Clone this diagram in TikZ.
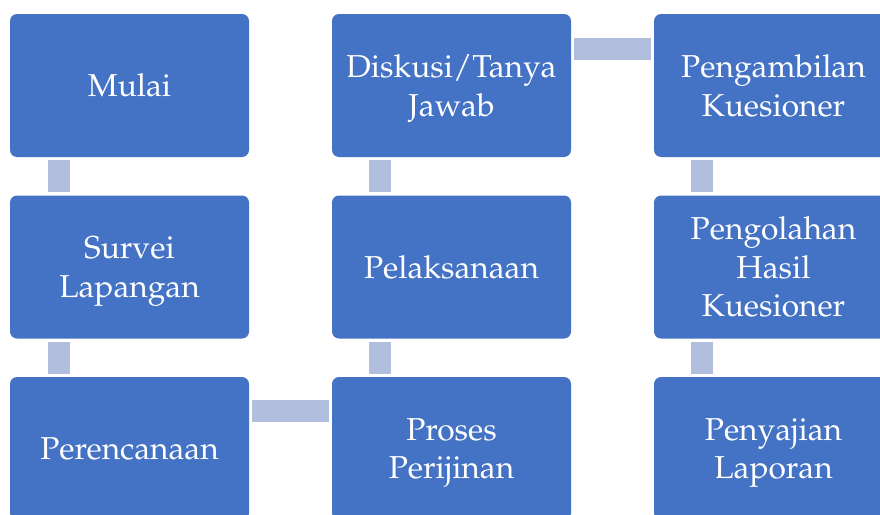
\documentclass[tikz,border=0pt]{standalone}
\usepackage[T1]{fontenc}
\usepackage{mathpazo}
\usepackage{xcolor}
\usepackage{tikz}

\definecolor{boxblue}{RGB}{68,114,196}
\definecolor{linkblue}{RGB}{177,190,222}

\begin{document}
\begin{tikzpicture}[x=1pt,y=-1pt,
  stepbox/.style={fill=boxblue,rounded corners=7pt,minimum width=239pt,minimum height=143pt,
    inner sep=0pt,text depth=0pt,text=white,align=center,font=\fontsize{31.7}{38.5}\selectfont},
  link/.style={draw=linkblue,line width=22pt,shorten <=3pt,shorten >=3pt}]
\useasboundingbox (0,0) rectangle (880,514);
\clip (0,0) rectangle (880,514);
%Boxes
\node[stepbox] (mulai) at (129.5,85.5) {Mulai};
\node[stepbox] (survei) at (129.5,267) {Survei\\Lapangan};
\node[stepbox] (rencana) at (129.5,448.5) {Perencanaan};
\node[stepbox] (izin) at (451.5,448.5) {Proses\\Perijinan};
\node[stepbox] (laksana) at (451.5,267) {Pelaksanaan};
\node[stepbox] (diskusi) at (451.5,85.5) {Diskusi/Tanya\\Jawab};
\node[stepbox] (ambil) at (773.5,85.5) {Pengambilan\\Kuesioner};
\node[stepbox] (olah) at (773.5,267) {Pengolahan\\Hasil\\Kuesioner};
\node[stepbox] (saji) at (773.5,448.5) {Penyajian\\Laporan};
%Links
\draw[link] ([xshift=49pt]mulai.south west) -- ([xshift=49pt]survei.north west);
\draw[link] ([xshift=49pt]survei.south west) -- ([xshift=49pt]rencana.north west);
\draw[link] ([yshift=-34.5pt]rencana.north east) -- ([yshift=-34.5pt]izin.north west);
\draw[link] ([xshift=48pt]izin.north west) -- ([xshift=48pt]laksana.south west);
\draw[link] ([xshift=48pt]laksana.north west) -- ([xshift=48pt]diskusi.south west);
\draw[link] ([yshift=-35pt]diskusi.north east) -- ([yshift=-35pt]ambil.north west);
\draw[link] ([xshift=48pt]ambil.south west) -- ([xshift=48pt]olah.north west);
\draw[link] ([xshift=48pt]olah.south west) -- ([xshift=48pt]saji.north west);
\end{tikzpicture}
\end{document}
